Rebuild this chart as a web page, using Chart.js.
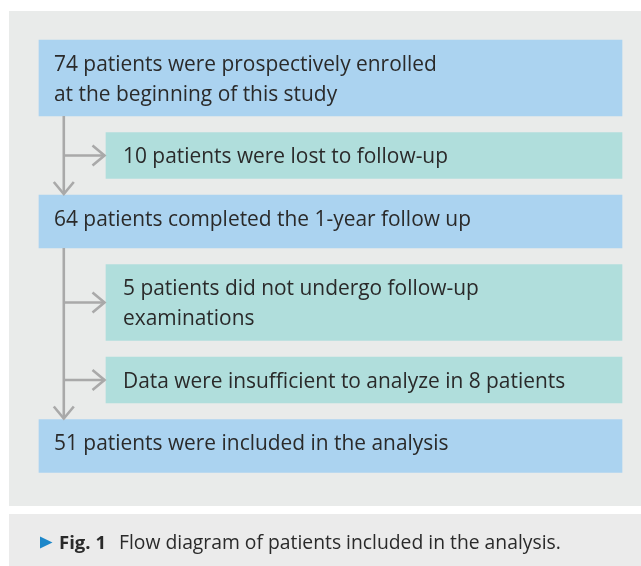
<!DOCTYPE html>
<html>
<head>
<meta charset="utf-8">
<script src="https://cdn.jsdelivr.net/npm/chart.js@4.4.1/dist/chart.umd.min.js"></script>
<style>
  html, body { margin: 0; padding: 0; background: #ffffff; }
  #wrap { width: 641px; height: 566px; position: relative; }
</style>
</head>
<body>
<div id="wrap"><canvas id="c"></canvas></div>
<script>
// ---------------- DATA ----------------
const stepTexts = [
  "74 patients were prospectively enrolled\nat the beginning of this study",
  "10 patients were lost to follow-up",
  "64 patients completed the 1-year follow up",
  "5 patients did not undergo follow-up\nexaminations",
  "Data were insufficient to analyze in 8 patients",
  "51 patients were included in the analysis"
];
const stepKinds = ["main", "excluded", "main", "excluded", "excluded", "main"];
const patientCounts = [74, 10, 64, 5, 8, 51];
const captionLabel = "Fig. 1";
const captionText = "Flow diagram of patients included in the analysis.";

// ---------------- LAYOUT / STYLE ----------------
const FRAME = { w: 641, h: 566 };
const COLUMNS = { main: { left: 39, right: 622 }, excluded: { left: 106, right: 622 } };
const LINE_H = 30;
const PAD_V = { main: 16, excluded: 16 };
const MIN_H = { main: 53, excluded: 46 };
const GAP = 16.5;
const FIRST_TOP = 40;
const TEXT_PAD_X = { main: 15, excluded: 17 };
const BASELINE_OFFSET = 30.5;
const TRUNK_X = 63.8;
const PANEL = { left: 9, top: 11, right: 641, bottom: 506 };
const CAPTION_PANEL = { left: 9, top: 514, right: 641, bottom: 566 };
const COLORS = {
  main: "#abd3f0",
  excluded: "#b0dedc",
  panel: "#e9ebea",
  captionPanel: "#ebebeb",
  arrow: "#a9a9a9",
  text: "#2a2a2a",
  marker: "#1d87c9"
};
const FONT_FAMILY = '"Open Sans", "Noto Sans", sans-serif';

// Box extents (in diagram units) derived from text line counts
let cursor = FIRST_TOP;
const boxes = stepTexts.map((t, i) => {
  const kind = stepKinds[i];
  const lines = t.split("\n");
  const h = Math.max(MIN_H[kind], lines.length * LINE_H + PAD_V[kind]);
  const b = { i, kind, lines, count: patientCounts[i], top: cursor, bottom: cursor + h,
              left: COLUMNS[kind].left, right: COLUMNS[kind].right };
  cursor = b.bottom + GAP;
  return b;
});

function dataFor(kind) {
  return boxes.filter(b => b.kind === kind).map(b => ({
    x: (b.left + b.right) / 2, y: [b.top, b.bottom], step: b.i
  }));
}

// ---------------- PLUGINS ----------------
let fontSizes = null;
function fitSize(ctx, text, target, weight) {
  ctx.font = (weight || "") + " 20px " + FONT_FAMILY;
  const w = ctx.measureText(text).width;
  return 20 * target / w;
}

const panelsPlugin = {
  id: "panels",
  beforeDraw(chart) {
    const { ctx, scales: { x, y } } = chart;
    ctx.save();
    ctx.fillStyle = "#ffffff";
    ctx.fillRect(0, 0, chart.width, chart.height);
    const rect = (p, c) => {
      const x0 = x.getPixelForValue(p.left), x1 = x.getPixelForValue(p.right);
      const y0 = y.getPixelForValue(p.top), y1 = y.getPixelForValue(p.bottom);
      ctx.fillStyle = c;
      ctx.fillRect(x0, y0, x1 - x0, y1 - y0);
    };
    rect(PANEL, COLORS.panel);
    rect(CAPTION_PANEL, COLORS.captionPanel);
    ctx.restore();
  }
};

const flowPlugin = {
  id: "flow",
  afterDatasetsDraw(chart) {
    const { ctx, scales: { x, y } } = chart;
    if (!fontSizes) {
      fontSizes = {
        body: fitSize(ctx, "74 patients were prospectively enrolled", 383, ""),
        caption: fitSize(ctx, captionText, 442, ""),
        bold: fitSize(ctx, captionLabel, 47, "bold")
      };
    }
    ctx.save();
    // connectors
    ctx.strokeStyle = COLORS.arrow;
    ctx.lineWidth = 2.6;
    ctx.lineCap = "butt";
    ctx.lineJoin = "miter";
    const tx = x.getPixelForValue(TRUNK_X);
    const mains = boxes.filter(b => b.kind === "main");
    for (let m = 0; m < mains.length - 1; m++) {
      const from = mains[m], to = mains[m + 1];
      const y0 = y.getPixelForValue(from.bottom);
      const yTip = y.getPixelForValue(to.top) - 1;
      ctx.beginPath();
      ctx.moveTo(tx, y0);
      ctx.lineTo(tx, yTip);
      ctx.stroke();
      ctx.beginPath();
      ctx.moveTo(tx - 10, yTip - 12);
      ctx.lineTo(tx, yTip);
      ctx.lineTo(tx + 10, yTip - 12);
      ctx.stroke();
      boxes.filter(b => b.kind === "excluded" && b.i > from.i && b.i < to.i).forEach(b => {
        const yc = y.getPixelForValue((b.top + b.bottom) / 2);
        const xTip = x.getPixelForValue(b.left) - 1.5;
        ctx.beginPath();
        ctx.moveTo(tx, yc);
        ctx.lineTo(xTip, yc);
        ctx.stroke();
        ctx.beginPath();
        ctx.moveTo(xTip - 12, yc - 10);
        ctx.lineTo(xTip, yc);
        ctx.lineTo(xTip - 12, yc + 10);
        ctx.stroke();
      });
    }
    // box texts
    ctx.fillStyle = COLORS.text;
    ctx.textBaseline = "alphabetic";
    ctx.textAlign = "left";
    ctx.font = fontSizes.body.toFixed(2) + "px " + FONT_FAMILY;
    boxes.forEach(b => {
      const px = x.getPixelForValue(b.left + TEXT_PAD_X[b.kind]);
      b.lines.forEach((ln, k) => {
        ctx.fillText(ln, px, y.getPixelForValue(b.top + BASELINE_OFFSET + k * LINE_H));
      });
    });
    // caption
    const cy = y.getPixelForValue(549);
    ctx.fillStyle = COLORS.marker;
    ctx.beginPath();
    ctx.moveTo(x.getPixelForValue(40), y.getPixelForValue(536.5));
    ctx.lineTo(x.getPixelForValue(52.5), y.getPixelForValue(542.5));
    ctx.lineTo(x.getPixelForValue(40), y.getPixelForValue(548.5));
    ctx.closePath();
    ctx.fill();
    ctx.fillStyle = COLORS.text;
    ctx.font = "bold " + fontSizes.bold.toFixed(2) + "px " + FONT_FAMILY;
    ctx.fillText(captionLabel, x.getPixelForValue(59), cy);
    ctx.font = fontSizes.caption.toFixed(2) + "px " + FONT_FAMILY;
    ctx.fillText(captionText, x.getPixelForValue(119), cy);
    ctx.restore();
  }
};

// ---------------- CHART ----------------
new Chart(document.getElementById("c"), {
  type: "bar",
  data: {
    datasets: [
      {
        label: "Patients remaining",
        data: dataFor("main"),
        backgroundColor: COLORS.main,
        borderWidth: 0,
        barThickness: COLUMNS.main.right - COLUMNS.main.left,
        grouped: false
      },
      {
        label: "Patients excluded",
        data: dataFor("excluded"),
        backgroundColor: COLORS.excluded,
        borderWidth: 0,
        barThickness: COLUMNS.excluded.right - COLUMNS.excluded.left,
        grouped: false
      }
    ]
  },
  options: {
    responsive: true,
    maintainAspectRatio: false,
    devicePixelRatio: 1,
    animation: false,
    events: [],
    layout: { padding: 0 },
    scales: {
      x: { type: "linear", min: 0, max: FRAME.w, display: false, offset: false },
      y: { type: "linear", min: 0, max: FRAME.h, reverse: true, display: false }
    },
    plugins: {
      legend: { display: false },
      tooltip: { enabled: false },
      title: { display: false }
    }
  },
  plugins: [panelsPlugin, flowPlugin]
});
</script>
</body>
</html>
